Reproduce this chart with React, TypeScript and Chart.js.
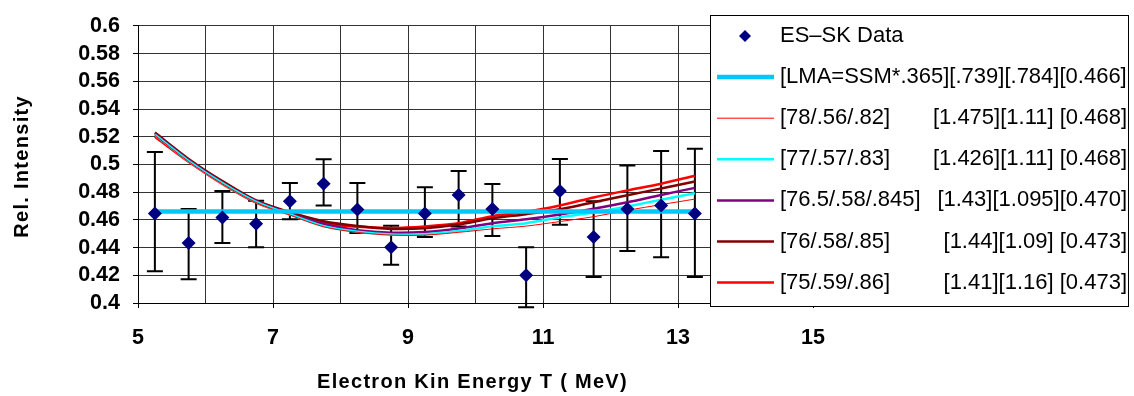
import React, { useEffect, useRef } from "react";
import { Chart, registerables } from "chart.js";

Chart.register(...registerables);

// ---------- data ----------
const energy = [5.25, 5.75, 6.25, 6.75, 7.25, 7.75, 8.25, 8.75, 9.25, 9.75, 10.25, 10.75, 11.25, 11.75, 12.25, 12.75, 13.25];
const esskData = [0.4646, 0.4433, 0.4618, 0.4572, 0.4734, 0.4861, 0.4674, 0.4403, 0.4646, 0.478, 0.4678, 0.42, 0.4808, 0.4477, 0.4678, 0.4704, 0.4646];
const errHigh = [0.509, 0.4678, 0.4808, 0.4738, 0.4866, 0.5037, 0.4866, 0.4558, 0.4836, 0.4953, 0.4859, 0.4403, 0.504, 0.4734, 0.4993, 0.5097, 0.5113];
const errLow = [0.423, 0.4171, 0.4433, 0.4403, 0.4604, 0.4704, 0.4505, 0.4276, 0.4477, 0.4553, 0.4484, 0.397, 0.4565, 0.4188, 0.4375, 0.4331, 0.4188];

const lma = [0.466, 0.466, 0.466, 0.466, 0.466, 0.466, 0.466, 0.466, 0.466, 0.466, 0.466, 0.466, 0.466, 0.466, 0.466, 0.466, 0.466];
const fit78 = [0.521, 0.502, 0.486, 0.4725, 0.4635, 0.455, 0.451, 0.449, 0.449, 0.451, 0.4535, 0.4555, 0.4588, 0.4623, 0.4669, 0.471, 0.475];
const fit77 = [0.5215, 0.5025, 0.4865, 0.473, 0.464, 0.4555, 0.4515, 0.4495, 0.4497, 0.452, 0.4553, 0.4576, 0.4618, 0.4653, 0.4697, 0.4745, 0.4792];
const fit765 = [0.522, 0.503, 0.487, 0.4735, 0.4645, 0.457, 0.4525, 0.4507, 0.4512, 0.4537, 0.4576, 0.4604, 0.4639, 0.468, 0.4727, 0.478, 0.4831];
const fit76 = [0.523, 0.504, 0.488, 0.474, 0.4655, 0.459, 0.4555, 0.4535, 0.454, 0.4566, 0.4611, 0.4641, 0.4676, 0.4727, 0.4778, 0.4826, 0.4877];
const fit75 = [0.52, 0.502, 0.486, 0.4725, 0.464, 0.4575, 0.455, 0.4542, 0.4553, 0.4576, 0.4627, 0.4658, 0.4704, 0.4762, 0.4813, 0.4861, 0.4919];

const legendLeft = [
  "ES–SK Data",
  "[LMA=SSM*.365][.739][.784][0.466]",
  "[78/.56/.82]",
  "[77/.57/.83]",
  "[76.5/.58/.845]",
  "[76/.58/.85]",
  "[75/.59/.86]",
];
const legendRight = ["", "", "[1.475][1.11] [0.468]", "[1.426][1.11] [0.468]", "[1.43][1.095][0.470]", "[1.44][1.09] [0.473]", "[1.41][1.16] [0.473]"];

const xTickValues = [5, 6, 7, 8, 9, 10, 11, 12, 13, 14, 15];
const xTickLabels = ["5", "7", "9", "11", "13", "15"];
const yTickValues = [0.4, 0.42, 0.44, 0.46, 0.48, 0.5, 0.52, 0.54, 0.56, 0.58, 0.6];
const yTickLabels = ["0.4", "0.42", "0.44", "0.46", "0.48", "0.5", "0.52", "0.54", "0.56", "0.58", "0.6"];

const xTitle = "Electron Kin Energy T ( MeV)";
const yTitle = "Rel. Intensity";

const FONT = '"Liberation Sans", Arial, sans-serif';

const pts = (ys: number[]) => energy.map((x, i) => ({ x, y: ys[i] }));

const errorBarPlugin = {
  id: "errorBars",
  beforeDatasetsDraw(chart: any) {
    const { ctx, scales } = chart;
    const xs = scales.x;
    const ys = scales.y;
    ctx.save();
    ctx.strokeStyle = "#000000";
    ctx.lineWidth = 2;
    for (let i = 0; i < energy.length; i++) {
      const x = xs.getPixelForValue(energy[i]);
      const yt = ys.getPixelForValue(errHigh[i]);
      const yb = ys.getPixelForValue(errLow[i]);
      ctx.beginPath();
      ctx.moveTo(x, yt);
      ctx.lineTo(x, yb);
      ctx.moveTo(x - 8, yt);
      ctx.lineTo(x + 8, yt);
      ctx.moveTo(x - 8, yb);
      ctx.lineTo(x + 8, yb);
      ctx.stroke();
    }
    ctx.restore();
  },
};

const titlesPlugin = {
  id: "titles",
  afterDraw(chart: any) {
    const { ctx, chartArea } = chart;
    ctx.save();
    ctx.fillStyle = "#000000";
    ctx.font = `bold 20px ${FONT}`;
    (ctx as any).letterSpacing = "1.3px";
    ctx.textAlign = "center";
    ctx.textBaseline = "alphabetic";
    ctx.fillText(xTitle, (chartArea.left + chartArea.right) / 2 - 3, 388);
    ctx.translate(28, (chartArea.top + chartArea.bottom) / 2 + 2);
    ctx.rotate(-Math.PI / 2);
    ctx.fillText(yTitle, 0, 0);
    ctx.restore();
  },
};

const legendPlugin = {
  id: "boxLegend",
  afterDraw(chart: any) {
    const { ctx } = chart;
    const L = 710, T = 15, R = 1129, B = 307;
    ctx.save();
    ctx.fillStyle = "#ffffff";
    ctx.fillRect(L, T, R - L, B - T);
    ctx.strokeStyle = "#000000";
    ctx.lineWidth = 1;
    ctx.strokeRect(L + 0.5, T + 0.5, R - L - 1, B - T - 1);
    ctx.font = `22px ${FONT}`;
    ctx.textBaseline = "middle";
    ctx.fillStyle = "#000000";
    chart.data.datasets.forEach((ds: any, i: number) => {
      const y = 36 + i * 41.1;
      if (i === 0) {
        ctx.fillStyle = ds.backgroundColor;
        ctx.beginPath();
        ctx.moveTo(745 - 6, y);
        ctx.lineTo(745, y - 6);
        ctx.lineTo(745 + 6, y);
        ctx.lineTo(745, y + 6);
        ctx.closePath();
        ctx.fill();
      } else {
        ctx.strokeStyle = ds.borderColor;
        ctx.lineWidth = ds.borderWidth;
        ctx.beginPath();
        ctx.moveTo(717, y);
        ctx.lineTo(774, y);
        ctx.stroke();
      }
      ctx.fillStyle = "#000000";
      ctx.textAlign = "left";
      ctx.fillText(legendLeft[i], 780, y);
      if (legendRight[i]) {
        ctx.textAlign = "right";
        ctx.fillText(legendRight[i], 1127, y);
      }
    });
    ctx.restore();
  },
};

export default function App() {
  const ref = useRef<HTMLCanvasElement | null>(null);

  useEffect(() => {
    if (!ref.current) return;
    const lineDs = (label: string, ys: number[], color: string, width: number) => ({
      label,
      data: pts(ys),
      showLine: true,
      borderColor: color,
      backgroundColor: color,
      borderWidth: width,
      pointRadius: 0,
      pointHoverRadius: 0,
      tension: 0.3,
      fill: false,
    });
    const chart = new Chart(ref.current, {
      type: "scatter",
      data: {
        datasets: [
          {
            label: legendLeft[0],
            data: pts(esskData),
            showLine: false,
            pointStyle: "rectRot",
            pointRadius: 7,
            pointBackgroundColor: "#000080",
            pointBorderColor: "#000080",
            pointBorderWidth: 0,
            backgroundColor: "#000080",
            borderColor: "#000080",
          } as any,
          lineDs(legendLeft[1], lma, "#00C8FA", 4.5),
          lineDs(legendLeft[2], fit78, "#FF0000", 1),
          lineDs(legendLeft[3], fit77, "#00FFFF", 2.5),
          lineDs(legendLeft[4], fit765, "#800080", 2.5),
          lineDs(legendLeft[5], fit76, "#800000", 2.5),
          lineDs(legendLeft[6], fit75, "#FF0000", 2.5),
        ],
      },
      options: {
        animation: false,
        responsive: false,
        events: [],
        layout: { padding: { left: 0, top: 15, right: 321, bottom: 0 } },
        plugins: {
          legend: { display: false },
          tooltip: { enabled: false },
          title: { display: false },
        },
        scales: {
          x: {
            type: "linear",
            min: 5,
            max: 15,
            afterBuildTicks: (scale: any) => {
              scale.ticks = xTickValues.map((v) => ({ value: v }));
            },
            afterFit: (scale: any) => {
              scale.height = 93;
            },
            ticks: {
              autoSkip: false,
              maxRotation: 0,
              padding: 17,
              color: "#000000",
              font: { family: FONT, size: 21.5, weight: "bold" },
              callback: (v: any) => {
                const s = String(v);
                return xTickLabels.includes(s) ? s : "";
              },
            },
            grid: {
              color: "#333333",
              lineWidth: 1,
              tickLength: 5,
              tickColor: (c: any) => (c.tick && xTickLabels.includes(String(c.tick.value)) ? "#000000" : "rgba(0,0,0,0)"),
            },
            border: { color: "#000000", width: 1 },
          },
          y: {
            type: "linear",
            min: 0.4,
            max: 0.6,
            afterBuildTicks: (scale: any) => {
              scale.ticks = yTickValues.map((v) => ({ value: v }));
            },
            afterFit: (scale: any) => {
              scale.width = 138;
            },
            ticks: {
              autoSkip: false,
              padding: 13,
              color: "#000000",
              font: { family: FONT, size: 21.5, weight: "bold" },
              callback: (v: any) => {
                const idx = yTickValues.findIndex((t) => Math.abs(t - Number(v)) < 1e-9);
                return idx >= 0 ? yTickLabels[idx] : "";
              },
            },
            grid: {
              color: "#333333",
              lineWidth: 1,
              tickLength: 5,
              tickColor: "#000000",
            },
            border: { color: "#000000", width: 1 },
          },
        },
      } as any,
      plugins: [errorBarPlugin, titlesPlugin, legendPlugin],
    });
    return () => chart.destroy();
  }, []);

  return (
    <div style={{ position: "fixed", left: 0, top: 0, width: 1134, height: 396, background: "#ffffff" }}>
      <canvas ref={ref} width={1134} height={396} style={{ width: 1134, height: 396, display: "block" }} />
    </div>
  );
}
